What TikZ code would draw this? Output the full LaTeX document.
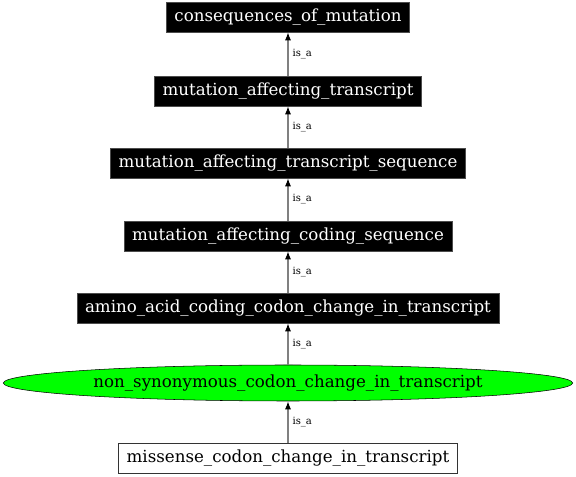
\documentclass[tikz,border=0pt]{standalone}
\usepackage{fontspec}
\setmainfont{DejaVu Serif}
\usetikzlibrary{shapes.geometric,arrows.meta}
\begin{document}
\begin{tikzpicture}[x=0.75pt,y=-0.75pt,
  mainfont/.style={font=\fontsize{12.5}{15}\selectfont},
  blackbox/.style={rectangle,fill=black,draw=black!70,text=white,mainfont,inner xsep=6pt,minimum height=22.5pt,inner ysep=0pt},
  whitebox/.style={rectangle,fill=white,draw=black!80,text=black,mainfont,inner xsep=6pt,minimum height=22.5pt,inner ysep=0pt},
  greenell/.style={ellipse,fill=green,draw=black,text=black,mainfont,inner sep=0pt,minimum width=427pt,minimum height=27pt},
  isa/.style={draw=gray,line width=0.9pt,-{Latex[length=6pt,width=4.5pt,color=black]}},
  lbl/.style={font=\fontsize{7.5}{9}\selectfont,anchor=west,inner sep=0pt}
]
\useasboundingbox (0,0) rectangle (576,477);
\node[blackbox] (n1) at (288,17) {consequences\_of\_mutation};
\node[blackbox] (n2) at (288,91) {mutation\_affecting\_transcript};
\node[blackbox] (n3) at (288,163) {mutation\_affecting\_transcript\_sequence};
\node[blackbox] (n4) at (288,236) {mutation\_affecting\_coding\_sequence};
\node[blackbox] (n5) at (288,308) {amino\_acid\_coding\_codon\_change\_in\_transcript};
\node[greenell] (n6) at (288,383) {non\_synonymous\_codon\_change\_in\_transcript};
\node[whitebox] (n7) at (288,458) {missense\_codon\_change\_in\_transcript};
\draw[isa] (n2) -- node[lbl,pos=0.5,xshift=3pt] {is\_a} (n1);
\draw[isa] (n3) -- node[lbl,pos=0.5,xshift=3pt] {is\_a} (n2);
\draw[isa] (n4) -- node[lbl,pos=0.5,xshift=3pt] {is\_a} (n3);
\draw[isa] (n5) -- node[lbl,pos=0.5,xshift=3pt] {is\_a} (n4);
\draw[isa] (n6) -- node[lbl,pos=0.5,xshift=3pt] {is\_a} (n5);
\draw[isa] (n7) -- node[lbl,pos=0.5,xshift=3pt] {is\_a} (n6);
\end{tikzpicture}
\end{document}
